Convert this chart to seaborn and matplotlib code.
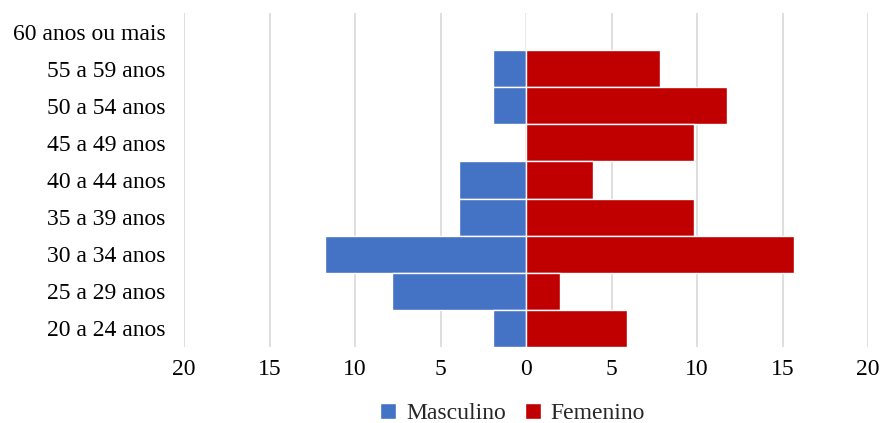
import matplotlib
matplotlib.use("Agg")
import matplotlib.pyplot as plt
from matplotlib.patches import Patch
from matplotlib.ticker import FuncFormatter, MultipleLocator
import seaborn as sns
import pandas as pd

faixas = ["60 anos ou mais", "55 a 59 anos", "50 a 54 anos", "45 a 49 anos",
          "40 a 44 anos", "35 a 39 anos", "30 a 34 anos", "25 a 29 anos",
          "20 a 24 anos"]
# percentage of respondents in each age band
masculino = [0.0, 1.96, 1.96, 0.0, 3.92, 3.92, 11.76, 7.84, 1.96]
femenino = [0.0, 7.84, 11.76, 9.80, 3.92, 9.80, 15.69, 1.96, 5.88]

cor_m = "#4472C4"
cor_f = "#C00000"

df = pd.DataFrame({
    "faixa": faixas * 2,
    "valor": [-v for v in masculino] + femenino,
    "sexo": ["Masculino"] * len(faixas) + ["Femenino"] * len(faixas),
})

sns.set_theme(style="white")
plt.rcParams["font.family"] = ["Liberation Serif", "DejaVu Serif"]

fig = plt.figure(figsize=(8.85, 4.23), dpi=100)
ax = fig.add_axes([0.208, 0.180, 0.773, 0.789])

sns.barplot(data=df, y="faixa", x="valor", hue="sexo", order=faixas,
            hue_order=["Masculino", "Femenino"],
            palette={"Masculino": cor_m, "Femenino": cor_f},
            dodge=False, width=1.0, orient="h", saturation=1,
            edgecolor="white", linewidth=1.0, legend=False, ax=ax, zorder=3)

ax.set_xlim(-20, 20)
ax.set_ylim(len(faixas) - 0.5, -0.5)
ax.xaxis.set_major_locator(MultipleLocator(5))
ax.xaxis.set_major_formatter(FuncFormatter(lambda v, p: f"{abs(v):g}"))
ax.grid(axis="x", color="#D9D9D9", linewidth=1.2, zorder=0)
ax.set_axisbelow(True)
for s in ax.spines.values():
    s.set_visible(False)
ax.set_xlabel("")
ax.set_ylabel("")
ax.tick_params(axis="both", length=0, labelsize=17, colors="black")
ax.tick_params(axis="x", pad=9)
ax.tick_params(axis="y", pad=13.5)

handles = [Patch(facecolor=cor_m, label="Masculino"),
           Patch(facecolor=cor_f, label="Femenino")]
fig.legend(handles=handles, loc="center", bbox_to_anchor=(0.579, 0.022),
           ncol=2, frameon=False, fontsize=17, handlelength=0.7,
           handleheight=0.7, handletextpad=0.4, columnspacing=0.8)

fig.savefig("out.png", dpi=100)
